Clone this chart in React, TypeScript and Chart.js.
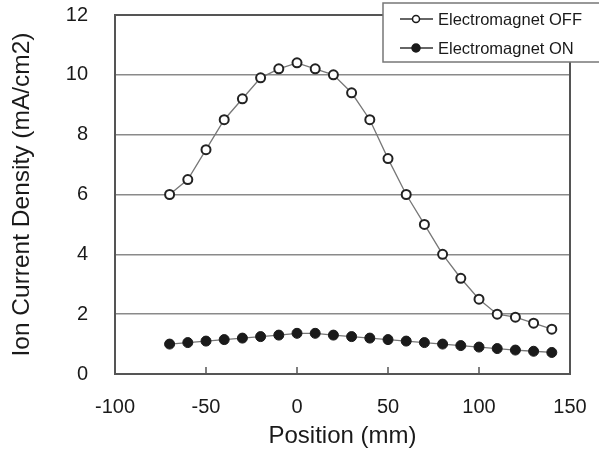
import React, { useEffect, useRef } from "react";
import { Chart, registerables } from "chart.js";

Chart.register(...registerables);

const positions = [-70, -60, -50, -40, -30, -20, -10, 0, 10, 20, 30, 40, 50, 60, 70, 80, 90, 100, 110, 120, 130, 140];
const offValues = [6.0, 6.5, 7.5, 8.5, 9.2, 9.9, 10.2, 10.4, 10.2, 10.0, 9.4, 8.5, 7.2, 6.0, 5.0, 4.0, 3.2, 2.5, 2.0, 1.9, 1.7, 1.5];
const onValues = [1.0, 1.05, 1.1, 1.15, 1.2, 1.25, 1.3, 1.36, 1.36, 1.3, 1.25, 1.2, 1.15, 1.1, 1.05, 1.0, 0.95, 0.9, 0.85, 0.8, 0.76, 0.72];
const seriesLabels = ["Electromagnet OFF", "Electromagnet ON"];
const xTitle = "Position (mm)";
const yTitle = "Ion Current Density (mA/cm2)";

const FONT = "'Liberation Sans', Arial, sans-serif";

const zeroPad = (s: any) => {
  s.paddingLeft = 0;
  s.paddingRight = 0;
  s.paddingTop = 0;
  s.paddingBottom = 0;
};

const framePlugin = {
  id: "frame",
  beforeDatasetsDraw(chart: any) {
    const { ctx, chartArea } = chart;
    const xs = chart.scales.x;
    ctx.save();
    ctx.strokeStyle = "#555";
    ctx.lineWidth = 1.5;
    xs.ticks.forEach((t: any) => {
      if (t.value <= xs.min || t.value >= xs.max) return;
      const px = Math.round(xs.getPixelForValue(t.value));
      ctx.beginPath();
      ctx.moveTo(px, chartArea.bottom);
      ctx.lineTo(px, chartArea.bottom - 7);
      ctx.stroke();
    });
    ctx.lineWidth = 2;
    ctx.strokeStyle = "#555";
    ctx.strokeRect(chartArea.left, chartArea.top, chartArea.right - chartArea.left, chartArea.bottom - chartArea.top);
    ctx.restore();
  },
  afterDraw(chart: any) {
    const { ctx } = chart;
    ctx.save();
    ctx.fillStyle = "#fff";
    ctx.strokeStyle = "#777";
    ctx.lineWidth = 1.5;
    ctx.fillRect(383, 3, 240, 59);
    ctx.strokeRect(383, 3, 240, 59);
    const rows = [19, 48];
    chart.data.datasets.forEach((ds: any, i: number) => {
      const y = rows[i];
      ctx.strokeStyle = "#333";
      ctx.lineWidth = 1.5;
      ctx.beginPath();
      ctx.moveTo(400, y);
      ctx.lineTo(433, y);
      ctx.stroke();
      ctx.beginPath();
      ctx.arc(416, y, i === 0 ? 3.5 : 4, 0, Math.PI * 2);
      ctx.fillStyle = i === 0 ? "#fff" : "#1a1a1a";
      ctx.fill();
      ctx.strokeStyle = "#1a1a1a";
      ctx.stroke();
      ctx.fillStyle = "#1a1a1a";
      ctx.font = `16.5px ${FONT}`;
      ctx.textBaseline = "middle";
      ctx.textAlign = "left";
      ctx.fillText(ds.label, 438, y + 1);
    });
    ctx.restore();
  },
};

export default function App() {
  const ref = useRef<HTMLCanvasElement>(null);
  useEffect(() => {
    document.body.style.margin = "0";
    const chart = new Chart(ref.current!, {
      type: "line",
      data: {
        datasets: [
          {
            label: seriesLabels[0],
            data: positions.map((x, i) => ({ x, y: offValues[i] })),
            borderColor: "#777",
            borderWidth: 1.3,
            pointRadius: 4.5,
            pointBorderWidth: 2,
            pointBackgroundColor: "#fff",
            pointBorderColor: "#222",
            tension: 0,
          },
          {
            label: seriesLabels[1],
            data: positions.map((x, i) => ({ x, y: onValues[i] })),
            borderColor: "#777",
            borderWidth: 1.3,
            pointRadius: 5,
            pointBorderWidth: 1,
            pointBackgroundColor: "#1a1a1a",
            pointBorderColor: "#1a1a1a",
            tension: 0,
          },
        ],
      },
      options: {
        animation: false,
        responsive: false,
        maintainAspectRatio: false,
        layout: { padding: { left: 0, top: 15, right: 29, bottom: 0 } },
        plugins: { legend: { display: false }, tooltip: { enabled: false } },
        scales: {
          x: {
            type: "linear",
            min: -100,
            max: 150,
            afterFit: (s: any) => { s.height = 80; zeroPad(s); },
            ticks: { stepSize: 50, padding: 21, color: "#1a1a1a", font: { family: FONT, size: 20 }, maxRotation: 0 },
            grid: { display: false, drawTicks: false },
            border: { display: false },
            title: { display: true, text: xTitle, color: "#1a1a1a", font: { family: FONT, size: 24 }, padding: { top: 0, bottom: 3 } },
          },
          y: {
            min: 0,
            max: 12,
            afterFit: (s: any) => { s.width = 115; zeroPad(s); },
            ticks: { stepSize: 2, padding: 27, color: "#1a1a1a", font: { family: FONT, size: 20 } },
            grid: { color: "#8a8a8a", lineWidth: 1.5, drawTicks: false, tickLength: 0 },
            border: { display: false },
            title: { display: true, text: yTitle, color: "#1a1a1a", font: { family: FONT, size: 24.5 }, padding: { top: 8, bottom: 0 } },
          },
        },
      },
      plugins: [framePlugin],
    });
    return () => chart.destroy();
  }, []);
  return (
    <div style={{ width: 599, height: 454 }}>
      <canvas ref={ref} width={599} height={454} style={{ display: "block" }} />
    </div>
  );
}
